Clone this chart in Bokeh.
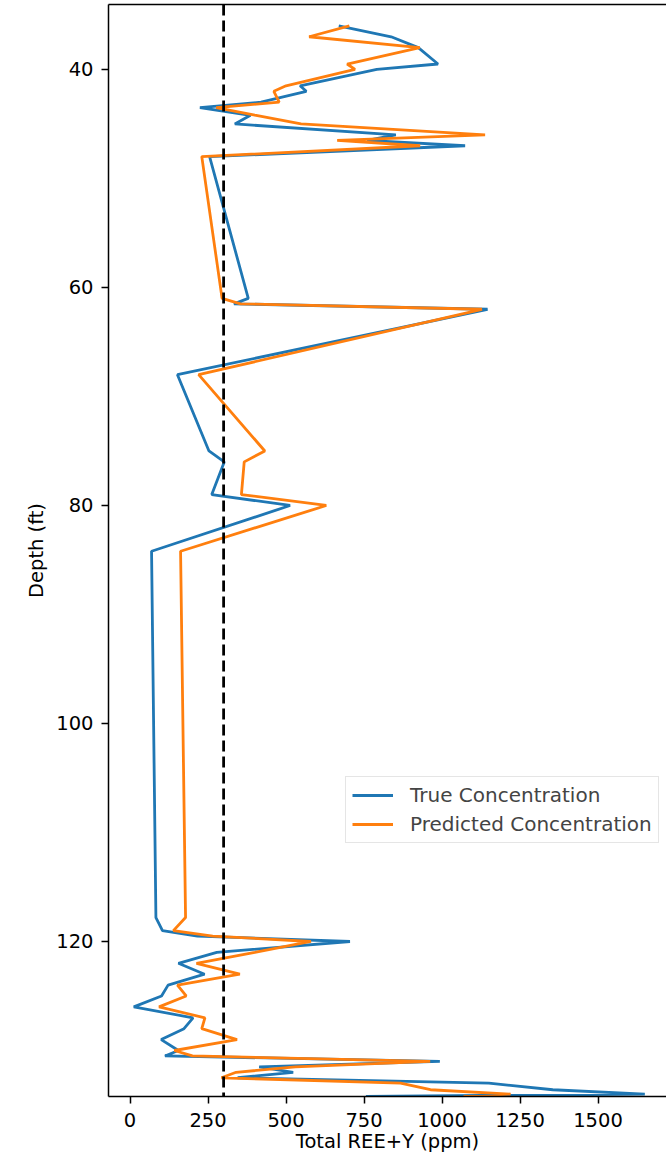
from bokeh.plotting import figure
from bokeh.models import Range1d, FixedTicker, LinearAxis, Span
from bokeh.embed import file_html
from bokeh.resources import INLINE

# ---- data ----
depth = [36.0, 37.0, 38.0, 39.5, 40.0, 41.5, 42.0, 43.0, 43.5, 44.2, 45.0, 46.0, 46.5, 47.0,
         48.0, 61.0, 61.5, 62.0, 68.0, 75.0, 76.0, 79.0, 80.0, 84.2, 117.8, 119.0, 119.5,
         120.0, 121.0, 122.0, 123.0, 124.0, 125.0, 126.0, 127.0, 128.0, 129.0, 130.0, 130.5,
         131.0, 131.5, 132.0, 132.5, 133.0, 133.6, 134.0, 134.22]
true_conc = [669, 837, 924, 987, 791, 545, 565, 420, 224, 386, 336, 852, 760, 1074,
             255, 379, 333, 1146, 152, 253, 302, 262, 513, 69, 83, 104, 216,
             705, 278, 155, 239, 122, 101, 12, 202, 173, 100, 155, 112,
             993, 414, 523, 345, 1150, 1355, 1650, 756]
pred_conc = [703, 574, 929, 696, 721, 500, 461, 478, 276, 400, 548, 1138, 664, 930,
             230, 295, 354, 1128, 220, 432, 366, 357, 629, 162, 178, 139, 265,
             580, 400, 213, 352, 152, 180, 93, 240, 230, 343, 142, 200,
             962, 530, 340, 293, 867, 963, 1220, 1069]
threshold = 300
x_ticks = [0, 250, 500, 750, 1000, 1250, 1500]
y_ticks = [40, 60, 80, 100, 120]

FONT = "DejaVu Sans"
FS = "19.5px"

p = figure(width=666, height=1155, output_backend="svg", toolbar_location=None,
           x_range=Range1d(-69, 1719.5), y_range=Range1d(134.22, 34.04),
           min_border_left=108, min_border_right=0, min_border_top=4, min_border_bottom=59)
p.grid.visible = False
p.outline_line_color = None
p.background_fill_color = "white"
p.border_fill_color = "white"

for ax, ticks in ((p.xaxis, x_ticks), (p.yaxis, y_ticks)):
    ax.ticker = FixedTicker(ticks=ticks)
    ax.major_label_text_font = FONT
    ax.major_label_text_font_size = FS
    ax.major_label_text_color = "black"
    ax.axis_label_text_font = FONT
    ax.axis_label_text_font_size = FS
    ax.axis_label_text_font_style = "normal"
    ax.axis_label_text_color = "black"
    ax.axis_line_width = 1.5
    ax.axis_line_color = "black"
    ax.major_tick_line_width = 1.5
    ax.major_tick_line_color = "black"
    ax.major_tick_out = 7
    ax.major_tick_in = 0
    ax.minor_tick_line_color = None

p.xaxis.axis_label = "Total REE+Y (ppm)"
p.xaxis.major_label_standoff = 9
p.xaxis.axis_label_standoff = 0
p.yaxis.axis_label = "Depth (ft)"
p.yaxis.major_label_standoff = 8
p.yaxis.axis_label_standoff = 5

top = LinearAxis(ticker=FixedTicker(ticks=[]), major_tick_out=0, major_tick_in=0,
                 minor_tick_out=0, minor_tick_in=0, major_label_text_font_size="0px",
                 major_label_standoff=0, axis_line_width=1.5, axis_line_color="black")
p.add_layout(top, "above")

p.line(true_conc, depth, line_color="#1f77b4", line_width=2.8, legend_label="True Concentration")
p.line(pred_conc, depth, line_color="#ff7f0e", line_width=2.8, legend_label="Predicted Concentration")

p.add_layout(Span(location=threshold, dimension="height", line_color="black",
                  line_dash="11 5", line_width=2.8))

lg = p.legend[0]
lg.location = (237, 253)
lg.label_text_font = FONT
lg.label_text_font_size = "20px"
lg.glyph_width = 41
lg.glyph_height = 22
lg.label_height = 22
lg.label_standoff = 17
lg.spacing = 5
lg.padding = 6
lg.margin = 0
lg.border_line_color = "#cccccc"
lg.border_line_width = 1.3
lg.background_fill_alpha = 0.8

open("out.html", "w").write(file_html(p, INLINE))
